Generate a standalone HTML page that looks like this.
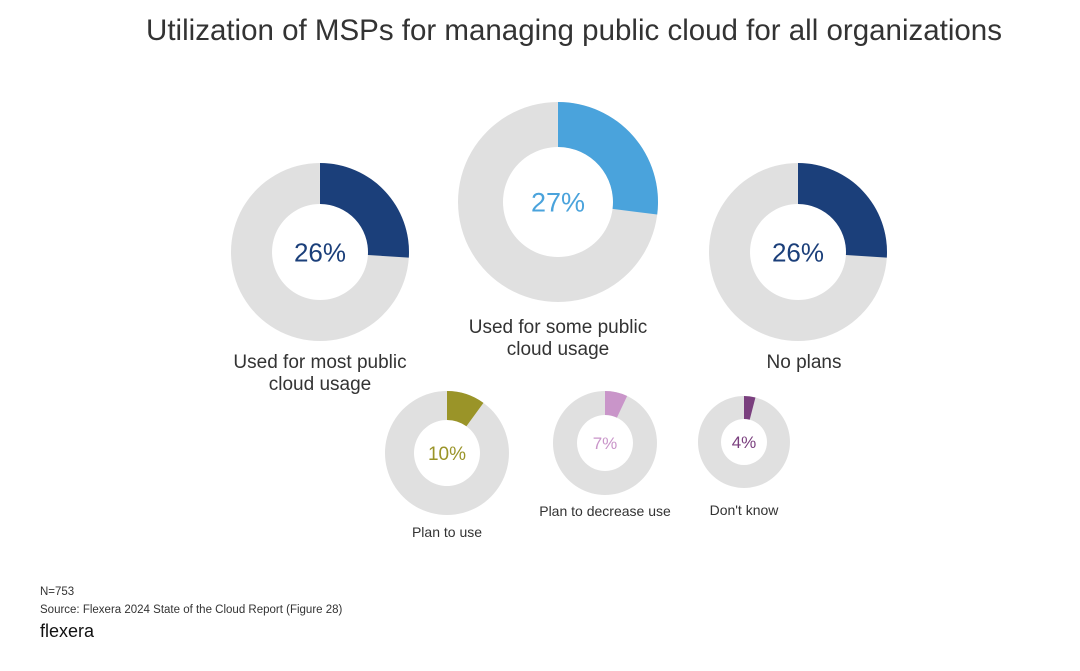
<!DOCTYPE html>
<html><head><meta charset="utf-8"><style>
body{margin:0;width:1080px;height:666px;background:#fff;overflow:hidden;font-family:"Liberation Sans",sans-serif;}
svg text{font-family:"Liberation Sans",sans-serif;}
</style></head><body>
<svg width="1080" height="666">
<text x="574" y="40" text-anchor="middle" font-size="29.5" fill="#333">Utilization of MSPs for managing public cloud for all organizations</text>
<g id="donuts"></g>
<text x="40" y="595" font-size="11.5" fill="#333">N=753</text>
<text x="40" y="613" font-size="11.5" fill="#333">Source: Flexera 2024 State of the Cloud Report (Figure 28)</text>
<text x="40" y="637" font-size="18" fill="#111">flexera</text>
</svg>
<script>
const categories=["Used for most public|cloud usage","Used for some public|cloud usage","No plans","Plan to use","Plan to decrease use","Don't know"];
const values=[26,27,26,10,7,4];
const colors=["#1b3f7a","#4aa3dc","#1b3f7a","#9a9428","#c995c9","#7a3f7e"];
const cx=[320,558,798,447,605,744],cy=[252,202,252,453,443,442],ro=[89,100,89,62,52,46],ri=[48,55,48,33,28,23];
const fs=[26,27,26,19,17,17],lfs=[19,19,19,14,14,14],ly=[368,333,368,537,516,515];
const g=document.getElementById('donuts');const NS="http://www.w3.org/2000/svg";
function arc(x,y,R,r,a0,a1){const p=(a,rad)=>[x+rad*Math.sin(a),y-rad*Math.cos(a)];const l=(a1-a0)>Math.PI?1:0;
const [x1,y1]=p(a0,R),[x2,y2]=p(a1,R),[x3,y3]=p(a1,r),[x4,y4]=p(a0,r);
return `M${x1},${y1}A${R},${R} 0 ${l} 1 ${x2},${y2}L${x3},${y3}A${r},${r} 0 ${l} 0 ${x4},${y4}Z`;}
values.forEach((v,i)=>{
const bg=document.createElementNS(NS,'path');
bg.setAttribute('d',arc(cx[i],cy[i],ro[i],ri[i],0,2*Math.PI*0.9999)+"");
bg.setAttribute('fill','#e0e0e0');


g.appendChild(bg);
const s=document.createElementNS(NS,'path');
s.setAttribute('d',arc(cx[i],cy[i],ro[i],ri[i],0,2*Math.PI*v/100));
s.setAttribute('fill',colors[i]);


g.appendChild(s);
const t=document.createElementNS(NS,'text');
t.setAttribute('x',cx[i]);t.setAttribute('y',cy[i]+fs[i]*0.36);
t.setAttribute('text-anchor','middle');t.setAttribute('font-size',fs[i]);t.setAttribute('fill',colors[i]);
t.textContent=v+'%';


g.appendChild(t);
categories[i].split('|').forEach((ln,j)=>{
const l=document.createElementNS(NS,'text');
l.setAttribute('x',i==2?804:cx[i]);l.setAttribute('y',ly[i]+j*22);
l.setAttribute('text-anchor','middle');l.setAttribute('font-size',lfs[i]);l.setAttribute('fill','#333');
l.textContent=ln;


g.appendChild(l);});
});
</script>
</body></html>
